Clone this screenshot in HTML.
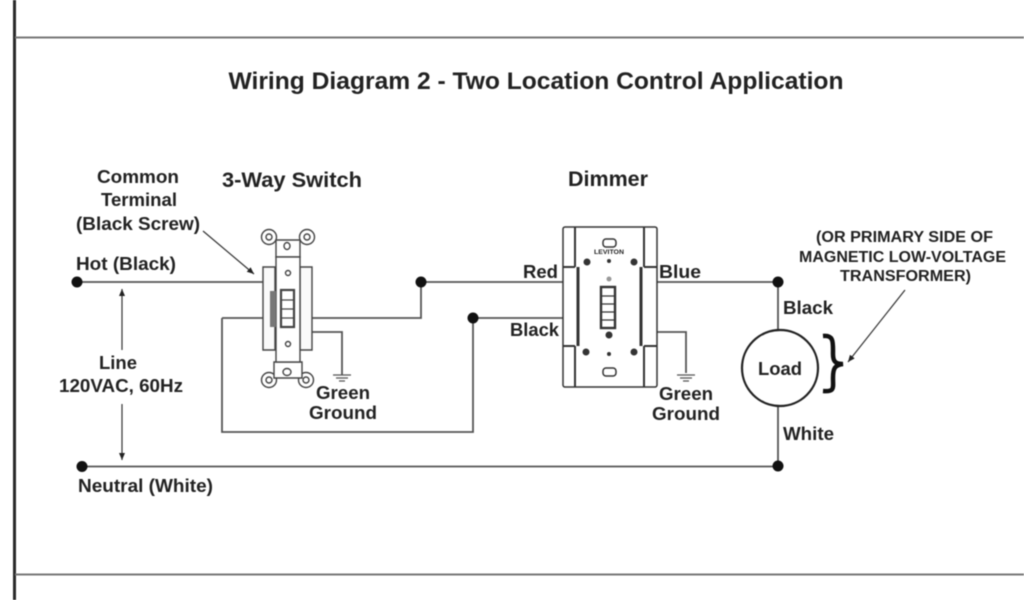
<!DOCTYPE html>
<html><head><meta charset="utf-8"><style>
html,body{margin:0;padding:0;background:#fff;width:1024px;height:600px;overflow:hidden}
svg{display:block;filter:blur(.5px)}
text{font-family:"Liberation Sans",sans-serif;font-weight:bold;fill:#222;text-anchor:middle}
</style></head><body>
<svg width="1024" height="600" viewBox="0 0 1024 600" xmlns="http://www.w3.org/2000/svg">
<rect width="1024" height="600" fill="#fff"/>
<defs><marker id="a" markerUnits="userSpaceOnUse" markerWidth="8" markerHeight="8" refX="7" refY="3" orient="auto"><path d="M0 0L7 3L0 6z" fill="#222"/></marker></defs>
<path d="M14.500 0V600" stroke="#2a2a2a" stroke-width="3"/>
<path d="M15 37.500H1024M15 574.500H1024" stroke="#777" stroke-width="2"/>
<text x="536" y="89" font-size="24.500" textLength="615" lengthAdjust="spacingAndGlyphs">Wiring Diagram 2 - Two Location Control Application</text>

<g fill="none" stroke="#555" stroke-width="1.800">
<path d="M77 282H263M222 318H263M222 318V432H473V318H576M312 318H421V282H576M643 282H778V330M778 406V466M82 466.500H778"/>
<path d="M312 332H342V375M643 332H686V373"/>
<path d="M333 375H351M336 378H348M339 381H345M677 375H695M680 378H692M683 381H689" stroke-width="1.300"/>
</g>
<g fill="#111"><circle cx="77" cy="282" r="5.500"/><circle cx="421" cy="282" r="5.500"/><circle cx="473" cy="318" r="5.500"/><circle cx="778" cy="282" r="5.500"/><circle cx="778" cy="466" r="5.500"/><circle cx="82" cy="466.500" r="5.500"/></g>

<!-- 3-way switch -->
<g fill="#fff" stroke="#444" stroke-width="1.400">
<circle cx="269" cy="237" r="7.500"/><circle cx="269" cy="237" r="3"/><circle cx="307" cy="237" r="7.500"/><circle cx="307" cy="237" r="3"/>
<circle cx="269" cy="380" r="7.500"/><circle cx="269" cy="380" r="3"/><circle cx="306" cy="380" r="7.500"/><circle cx="306" cy="380" r="3"/>
<path d="M276 240H300V257H276zM274 362H302V378H274z"/>
<path d="M263 267H275V350H263zM300 267H312V350H300z" fill="#fafafa"/>
<rect x="276" y="257" width="24" height="105"/>
<rect x="281" y="290" width="13" height="37" stroke-width="2.200"/>
<path d="M281 300H294M281 309H294M281 318H294" stroke-width="1.300"/>
<circle cx="288" cy="273" r="2.500"/><circle cx="288" cy="344" r="2.500"/>
<ellipse cx="287" cy="246" rx="3" ry="3.500"/><ellipse cx="287" cy="372" rx="4" ry="3.500"/>
</g>
<rect x="270" y="291" width="6" height="36" fill="#777"/>

<!-- dimmer -->
<g fill="#fff" stroke="#333" stroke-width="1.500">
<rect x="563" y="227" width="94" height="160" rx="2"/>
<path d="M575 227V267M644 227V267M575 346V387M644 346V387M563 267H575M644 267H657M563 346H575M644 346H657" stroke-width="2"/>
<path d="M578 267V346M641 267V346" stroke-width="3"/>
<rect x="603" y="239" width="13" height="8" rx="3"/><rect x="603" y="368" width="13" height="8" rx="3"/>
<rect x="601" y="287" width="14" height="41" stroke-width="2.400"/>
<path d="M601 296H615M601 304H615M601 312H615M601 320H615" stroke-width="1.300"/>
</g>
<g fill="#333"><circle cx="587" cy="262" r="3.500"/><circle cx="634" cy="262" r="3.500"/><circle cx="586" cy="352" r="3.500"/><circle cx="634" cy="352" r="3.500"/><circle cx="609" cy="335" r="3.500"/><circle cx="609" cy="261" r="2"/><circle cx="609" cy="354" r="2"/><circle cx="609" cy="279" r="2.500" fill="#999"/></g>
<text x="609" y="254" font-size="6" textLength="30" lengthAdjust="spacingAndGlyphs">LEVITON</text>

<!-- load -->
<circle cx="780" cy="368" r="38" fill="#fff" stroke="#222" stroke-width="2.200"/>
<path d="M823 336C834 335 833 342 833 354C833 361 835 364 843 364C835 365 833 368 833 378C833 388 835 392 823 391" fill="none" stroke="#111" stroke-width="4.500"/>

<!-- arrows -->
<g fill="none" stroke="#333" stroke-width="1.200" marker-end="url(#a)">
<path d="M122 350V289"/><path d="M122 404V460"/><path d="M203 231L254 274"/><path d="M905 290L848 362"/>
</g>

<g font-size="18.500">
<text x="138" y="183" textLength="82" lengthAdjust="spacingAndGlyphs">Common</text>
<text x="139" y="206" textLength="76" lengthAdjust="spacingAndGlyphs">Terminal</text>
<text x="138" y="230" textLength="124" lengthAdjust="spacingAndGlyphs">(Black Screw)</text>
<text x="126" y="270" textLength="100" lengthAdjust="spacingAndGlyphs">Hot (Black)</text>
<text x="118" y="369" textLength="38" lengthAdjust="spacingAndGlyphs">Line</text>
<text x="121" y="392" textLength="124" lengthAdjust="spacingAndGlyphs">120VAC, 60Hz</text>
<text x="145.500" y="492" textLength="135" lengthAdjust="spacingAndGlyphs">Neutral (White)</text>
<text x="343" y="399" textLength="54" lengthAdjust="spacingAndGlyphs">Green</text>
<text x="343" y="419" textLength="68" lengthAdjust="spacingAndGlyphs">Ground</text>
<text x="540.500" y="278" textLength="35" lengthAdjust="spacingAndGlyphs">Red</text>
<text x="534.500" y="336" textLength="49" lengthAdjust="spacingAndGlyphs">Black</text>
<text x="680" y="278" textLength="42" lengthAdjust="spacingAndGlyphs">Blue</text>
<text x="686" y="400" textLength="54" lengthAdjust="spacingAndGlyphs">Green</text>
<text x="686" y="420" textLength="68" lengthAdjust="spacingAndGlyphs">Ground</text>
<text x="808" y="314" textLength="50" lengthAdjust="spacingAndGlyphs">Black</text>
<text x="780" y="375" textLength="44" lengthAdjust="spacingAndGlyphs">Load</text>
<text x="808.500" y="440" textLength="51" lengthAdjust="spacingAndGlyphs">White</text>
</g>
<text x="292" y="187" font-size="21" textLength="140" lengthAdjust="spacingAndGlyphs">3-Way Switch</text>
<text x="608" y="186" font-size="21" textLength="80" lengthAdjust="spacingAndGlyphs">Dimmer</text>
<g font-size="15.500">
<text x="904.500" y="242" textLength="177" lengthAdjust="spacingAndGlyphs">(OR PRIMARY SIDE OF</text>
<text x="902.500" y="262" textLength="207" lengthAdjust="spacingAndGlyphs">MAGNETIC LOW-VOLTAGE</text>
<text x="905.500" y="281" textLength="131" lengthAdjust="spacingAndGlyphs">TRANSFORMER)</text>
</g>
</svg>
</body></html>
